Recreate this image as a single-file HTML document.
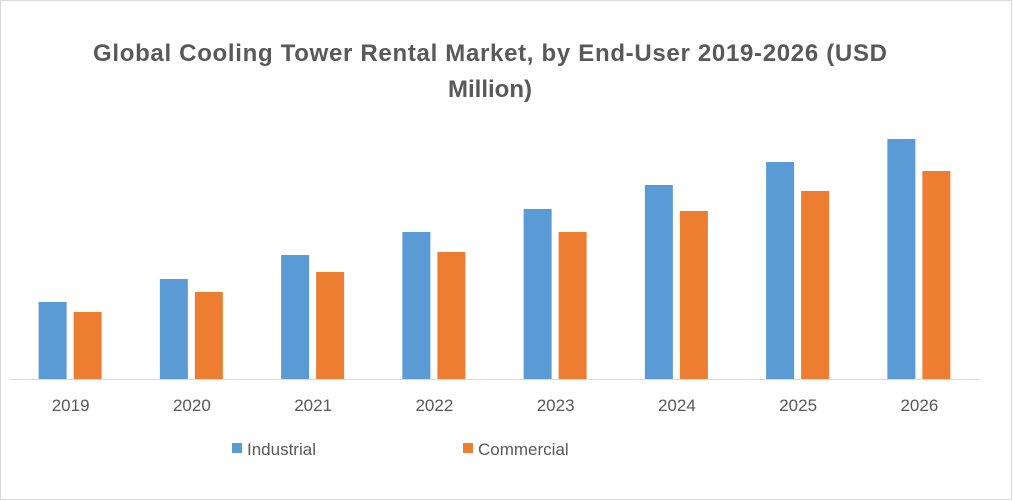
<!DOCTYPE html>
<html><head><meta charset="utf-8"><style>
body{margin:0;background:#fff;}
svg{display:block;font-family:"Liberation Sans",Arial,sans-serif;}
</style></head><body>
<svg width="1013" height="501" viewBox="0 0 1013 501">
<rect x="0.5" y="0.5" width="1011" height="499" fill="#fff" stroke="#d9d9d9"/>
<text x="490" y="61" text-anchor="middle" font-size="24" font-weight="bold" fill="#595959" textLength="794" lengthAdjust="spacing">Global Cooling Tower Rental Market, by End-User 2019-2026 (USD</text>
<text x="490" y="97" text-anchor="middle" font-size="24" font-weight="bold" fill="#595959">Million)</text>
<line x1="10" y1="379.5" x2="980" y2="379.5" stroke="#d9d9d9"/>
<g id="bars"></g>
<rect x="232" y="443" width="10" height="10" fill="#5b9bd5"/>
<text x="247" y="455" font-size="17" fill="#595959">Industrial</text>
<rect x="463" y="443" width="10" height="10" fill="#ed7d31"/>
<text x="478" y="455" font-size="17" fill="#595959">Commercial</text>
</svg>
<script>
const categories=["2019","2020","2021","2022","2023","2024","2025","2026"];
const industrial=[77,100,124,147,170,194,217,240];
const commercial=[67,87,107,127,147,168,188,208];
const NS="http://www.w3.org/2000/svg";
const g=document.getElementById("bars");
const x0=10,band=121.25,base=379,scale=1;
function xc(i){return x0+band*(i+0.5);}
function y(v){return base-v*scale;}
categories.forEach((c,i)=>{
  const a=document.createElementNS(NS,"rect");
  a.setAttribute("x",xc(i)-32);a.setAttribute("y",y(industrial[i]));
  a.setAttribute("width",28);a.setAttribute("height",base-y(industrial[i]));
  a.setAttribute("fill","#5b9bd5");
  
  
  g.appendChild(a);
  const b=document.createElementNS(NS,"rect");
  b.setAttribute("x",xc(i)+3);b.setAttribute("y",y(commercial[i]));
  b.setAttribute("width",28);b.setAttribute("height",base-y(commercial[i]));
  b.setAttribute("fill","#ed7d31");
  
  
  g.appendChild(b);
  const t=document.createElementNS(NS,"text");
  t.setAttribute("x",xc(i));t.setAttribute("y",411);
  t.setAttribute("text-anchor","middle");t.setAttribute("font-size","17");t.setAttribute("fill","#595959");
  t.textContent=c;
  
  
  g.appendChild(t);
});
</script>
</body></html>
